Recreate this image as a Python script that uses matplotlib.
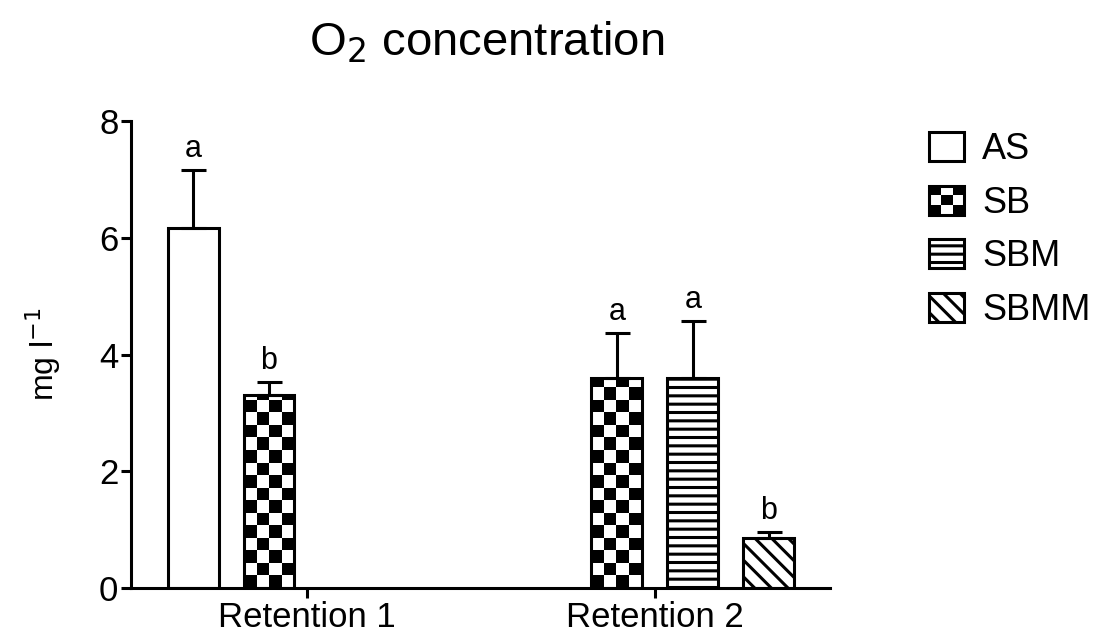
import numpy as np
import matplotlib
matplotlib.use('Agg')
import matplotlib.pyplot as plt
from matplotlib.patches import Rectangle
from matplotlib.legend_handler import HandlerBase

plt.rcParams['font.family'] = ['Liberation Sans', 'DejaVu Sans']
plt.rcParams['hatch.linewidth'] = 2.2

# data
groups = ['Retention 1', 'Retention 2']
series = ['AS', 'SB', 'SBM', 'SBMM']
means = {
    'AS':   [6.17, np.nan],
    'SB':   [3.31, 3.60],
    'SBM':  [np.nan, 3.60],
    'SBMM': [np.nan, 0.86],
}
errs = {
    'AS':   [0.99, 0],
    'SB':   [0.22, 0.77],
    'SBM':  [0, 0.97],
    'SBMM': [0, 0.10],
}
letters = {
    'AS':   ['a', ''],
    'SB':   ['b', 'a'],
    'SBM':  ['', 'a'],
    'SBMM': ['', 'b'],
}
hatches = {'AS': None, 'SB': 'checker', 'SBM': '--', 'SBMM': '\\\\'}

BAR_W = 0.1466
STEP = 0.2184
LW = 2.2
CELL_H = 0.214   # checker cell height in data units


class HandlerChecker(HandlerBase):
    '''3x3 checker square for the legend'''
    def create_artists(self, legend, orig_handle, xdescent, ydescent,
                       width, height, fontsize, trans):
        arts = []
        n = 3
        for i in range(n):
            for j in range(n):
                if (i + j) % 2 == 0:
                    arts.append(Rectangle((-xdescent + i * width / n, -ydescent + j * height / n),
                                          width / n, height / n, facecolor='black',
                                          edgecolor='none', transform=trans))
        arts.append(Rectangle((-xdescent, -ydescent), width, height, facecolor='none',
                              edgecolor='black', lw=2.2, transform=trans))
        return arts


fig = plt.figure(figsize=(10.97, 6.37), dpi=100)
ax = fig.add_axes([0.1194, 0.0769, 0.637, 0.733])

x_groups = np.arange(len(groups))
handles = []
for k, s in enumerate(series):
    xs = x_groups + (k - 1.5) * STEP
    for xi, m, e, lab in zip(xs, means[s], errs[s], letters[s]):
        if np.isnan(m):
            continue
        h = hatches[s]
        bar = ax.bar(xi, m, width=BAR_W, facecolor='white', edgecolor='black',
                     linewidth=LW, hatch=(h if h not in (None, 'checker') else None),
                     zorder=2)[0]
        if h == 'checker':
            nrows = int(np.ceil(m / CELL_H))
            grid = (np.indices((nrows, 4)).sum(axis=0) % 2).astype(float)
            grid = grid[::-1]
            im = ax.imshow(grid, cmap='gray', interpolation='nearest', aspect='auto',
                           extent=(xi - BAR_W / 2, xi + BAR_W / 2, 0, nrows * CELL_H),
                           origin='upper', zorder=1.5)
            im.set_clip_path(bar)
            bar.set_facecolor('none')
        if e > 0:
            ax.errorbar(xi, m, yerr=[[0], [e]], fmt='none', ecolor='black',
                        elinewidth=LW, capsize=9, capthick=LW, zorder=3)
        if lab:
            ax.text(xi, m + e + 0.1, lab, ha='center', va='bottom', fontsize=22)
    handles.append(Rectangle((0, 0), 1, 1, facecolor='white', edgecolor='black', lw=2.2,
                             hatch=(hatches[s] if hatches[s] not in (None, 'checker') else None)))

ax.set_xlim(-0.506, 1.503)
ax.set_ylim(0, 8)
ax.set_yticks([0, 2, 4, 6, 8])
ax.set_xticks(x_groups)
ax.set_xticklabels(groups)
ax.spines['top'].set_visible(False)
ax.spines['right'].set_visible(False)
ax.spines['left'].set_linewidth(LW)
ax.spines['bottom'].set_linewidth(LW)
ax.tick_params(axis='both', direction='out', length=7, width=LW, labelsize=25, pad=2)
ax.set_ylabel('mg l$^{-1}$', fontsize=23, labelpad=26)

fig.text(0.444, 0.933, 'O$_2$ concentration', ha='center', va='center', fontsize=34)

leg = fig.legend(handles, series, loc='upper left', bbox_to_anchor=(0.847, 0.793),
                 frameon=False, fontsize=26, handlelength=0.97, handleheight=0.86,
                 handletextpad=0.5, labelspacing=0.52, borderpad=0, borderaxespad=0,
                 handler_map={handles[1]: HandlerChecker()})

fig.savefig('out.png', dpi=100)
